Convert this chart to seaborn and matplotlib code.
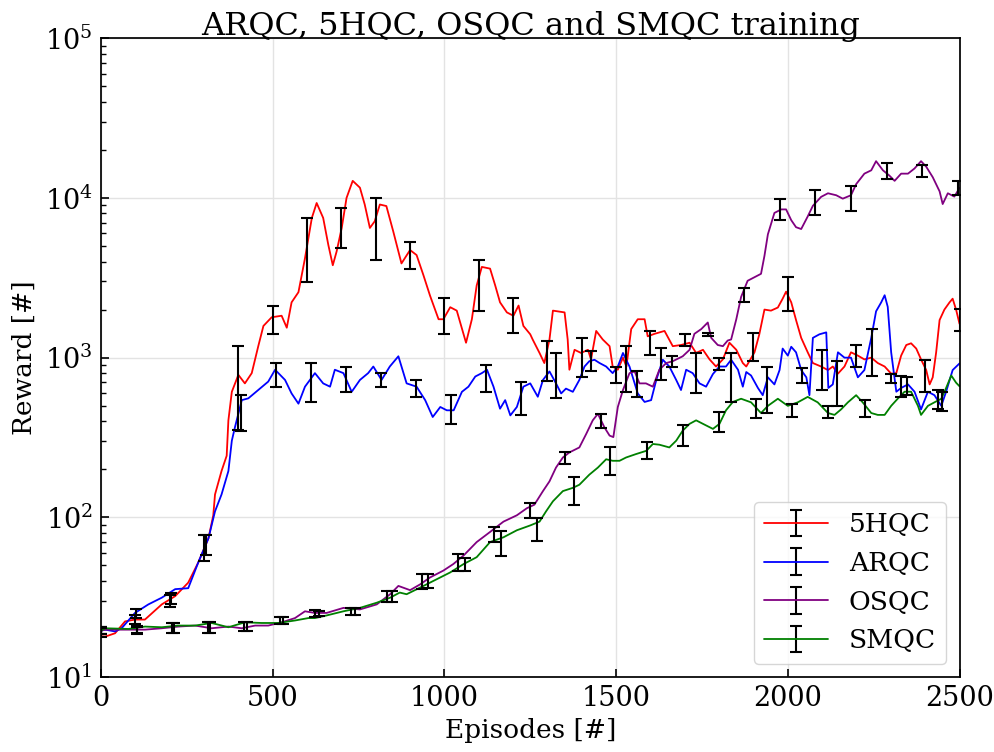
import numpy as np
import pandas as pd
import matplotlib
matplotlib.use("Agg")
import matplotlib.pyplot as plt
import seaborn as sns

# ---------------- data ----------------
ep_5hqc = [0, 12, 41, 70, 99, 128, 177, 216, 254, 283, 313, 327, 332, 351, 366, 371, 381, 400, 419, 439,
           458, 473, 497, 526, 541, 555, 575, 594, 614, 628, 647, 662, 675, 686, 701, 715, 733, 754, 768, 783,
           797, 812, 831, 851, 875, 900, 919, 939, 958, 983, 997, 1017, 1036, 1063, 1080, 1094, 1109, 1133, 1148, 1162,
           1182, 1201, 1216, 1230, 1250, 1257, 1277, 1291, 1306, 1316, 1330, 1350, 1359, 1364, 1379, 1398, 1418, 1427, 1442, 1461,
           1481, 1490, 1505, 1520, 1530, 1544, 1563, 1583, 1592, 1612, 1641, 1665, 1689, 1714, 1733, 1753, 1772, 1791, 1811, 1830,
           1850, 1869, 1879, 1903, 1917, 1932, 1951, 1971, 1985, 1995, 2010, 2024, 2039, 2058, 2073, 2097, 2117, 2131, 2146, 2165,
           2184, 2204, 2223, 2243, 2262, 2282, 2301, 2316, 2330, 2345, 2359, 2374, 2388, 2403, 2413, 2422, 2432, 2442, 2456, 2471,
           2480, 2490, 2500]
r_5hqc = [18, 17.9, 18.8, 22.3, 22.9, 22.9, 28.5, 32.1, 39, 52, 74, 103, 139, 195, 243, 405, 611, 780, 690, 800,
          1180, 1580, 1790, 1830, 1540, 2220, 2570, 4190, 7500, 9300, 7500, 5080, 3790, 4610, 6490, 10000, 12800, 11600, 9100, 6490,
          7140, 9100, 8900, 6180, 3890, 4720, 4390, 3280, 2450, 1740, 1740, 2070, 1970, 1240, 1740, 2830, 3700, 3610, 2830, 2220,
          1920, 1830, 2120, 1580, 1400, 1300, 1070, 925, 1300, 1970, 1950, 1920, 1300, 840, 1120, 1070, 1120, 976, 1470, 1300,
          1180, 880, 840, 1000, 880, 1510, 1740, 1740, 1360, 1410, 1470, 1180, 1200, 1240, 1070, 1120, 976, 880, 976, 1240,
          1120, 925, 880, 1080, 1400, 2000, 1970, 2060, 2340, 2590, 2220, 1720, 1330, 1080, 925, 880, 836, 880, 794, 880,
          1080, 1030, 975, 1000, 925, 880, 794, 800, 1030, 1200, 1230, 1140, 975, 836, 680, 753, 1080, 1720, 2000, 2220,
          2340, 2000, 1630]

ep_arqc = [0, 12, 41, 60, 99, 138, 177, 216, 254, 283, 313, 332, 351, 371, 381, 390, 410, 429, 458, 487,
           507, 536, 555, 575, 594, 623, 647, 667, 681, 706, 730, 754, 778, 793, 817, 841, 866, 890, 919, 944,
           966, 988, 1007, 1027, 1051, 1070, 1090, 1109, 1124, 1143, 1162, 1177, 1192, 1211, 1230, 1250, 1272, 1287, 1306, 1325,
           1340, 1354, 1374, 1393, 1408, 1422, 1437, 1452, 1471, 1490, 1505, 1520, 1539, 1563, 1583, 1602, 1617, 1636, 1655, 1675,
           1689, 1704, 1723, 1743, 1762, 1782, 1801, 1820, 1835, 1855, 1869, 1879, 1893, 1913, 1927, 1942, 1961, 1976, 1985, 2000,
           2010, 2024, 2039, 2054, 2063, 2073, 2092, 2112, 2118, 2131, 2146, 2165, 2184, 2204, 2223, 2243, 2257, 2272, 2282, 2291,
           2301, 2316, 2330, 2350, 2369, 2388, 2408, 2427, 2447, 2461, 2480, 2500]
r_arqc = [19.5, 19.8, 19.3, 20.2, 25.2, 28.5, 31.4, 35.5, 36, 52, 74, 109, 139, 195, 302, 366, 542, 556, 627, 708,
          840, 725, 597, 515, 658, 800, 690, 658, 840, 800, 611, 725, 800, 880, 725, 880, 1020, 690, 658, 542,
          425, 491, 468, 468, 611, 658, 762, 800, 840, 658, 479, 542, 435, 491, 658, 690, 569, 725, 820, 690,
          597, 640, 611, 725, 880, 950, 970, 925, 880, 800, 880, 1070, 880, 597, 528, 542, 725, 970, 880, 725,
          627, 840, 800, 690, 658, 790, 880, 880, 970, 840, 658, 813, 773, 646, 582, 753, 680, 836, 1140, 1030,
          1170, 1080, 836, 753, 582, 1330, 1400, 1440, 646, 680, 1080, 1000, 1000, 753, 836, 1330, 1950, 2220, 2460, 2080,
          1080, 612, 646, 680, 612, 474, 612, 582, 499, 612, 836, 920]

ep_osqc = [0, 12, 80, 128, 177, 225, 274, 322, 371, 410, 449, 487, 526, 565, 594, 623, 657, 706, 754, 803,
           842, 866, 900, 929, 958, 997, 1026, 1056, 1094, 1133, 1172, 1211, 1240, 1262, 1287, 1306, 1325, 1345, 1364, 1393,
           1413, 1432, 1447, 1466, 1481, 1492, 1505, 1520, 1539, 1554, 1568, 1587, 1607, 1626, 1646, 1665, 1694, 1714, 1728, 1748,
           1767, 1777, 1796, 1811, 1825, 1835, 1850, 1864, 1883, 1903, 1922, 1932, 1942, 1961, 1981, 1995, 2010, 2024, 2039, 2058,
           2073, 2097, 2117, 2141, 2160, 2184, 2199, 2223, 2243, 2257, 2277, 2296, 2311, 2330, 2350, 2369, 2388, 2403, 2422, 2442,
           2451, 2466, 2485, 2500]
r_osqc = [19.5, 19.8, 19.8, 19.8, 20.2, 20.7, 21.0, 20.2, 20.7, 20.2, 21, 21, 22, 23.4, 25.8, 25.2, 25.2, 27.1, 26.5, 28.5,
          33, 37.2, 35, 38, 42, 46.4, 51, 57.7, 70, 81, 94, 103, 114, 120, 146, 168, 205, 237, 255, 274,
          333, 405, 445, 366, 325, 318, 491, 627, 800, 820, 690, 690, 658, 840, 925, 950, 1020, 1120, 1410, 1510,
          1660, 1330, 1200, 1180, 1280, 1300, 1740, 2400, 3030, 3190, 3350, 4340, 5920, 8060, 8480, 8480, 7260, 6560, 6390, 7660,
          8930, 10160, 10700, 10400, 9900, 10400, 12200, 14200, 14900, 17000, 14900, 13800, 12800, 14200, 14200, 15300, 17000, 15700, 13500, 11000,
          9160, 10700, 10200, 11550]

ep_smqc = [0, 12, 80, 128, 177, 225, 274, 322, 371, 419, 468, 516, 565, 604, 623, 657, 706, 754, 803, 842,
           870, 890, 939, 978, 1017, 1056, 1094, 1133, 1172, 1211, 1250, 1277, 1296, 1316, 1345, 1374, 1393, 1422, 1447, 1471,
           1490, 1510, 1529, 1558, 1588, 1607, 1626, 1655, 1675, 1694, 1714, 1733, 1753, 1782, 1801, 1820, 1840, 1864, 1893, 1922,
           1942, 1971, 2000, 2029, 2058, 2087, 2117, 2136, 2155, 2175, 2199, 2218, 2243, 2262, 2282, 2301, 2320, 2340, 2359, 2379,
           2388, 2408, 2427, 2447, 2461, 2476, 2490, 2500]
r_smqc = [19.5, 20.2, 20, 20.7, 20.5, 21.0, 21.0, 21.8, 20.5, 22.0, 21.8, 21.8, 22.6, 23.4, 23.4, 24.3, 25.8, 27.1, 29.2, 31.4,
          33.8, 33, 37.2, 41, 45.2, 51, 56.3, 70, 75, 83, 89, 94, 109, 126, 146, 153, 160, 185, 205, 231,
          226, 226, 237, 249, 261, 288, 285, 274, 302, 349, 385, 405, 385, 358, 385, 468, 528, 553, 525, 450,
          499, 553, 499, 525, 568, 525, 450, 438, 474, 525, 582, 525, 450, 438, 438, 499, 553, 612, 612, 499,
          438, 499, 525, 553, 646, 773, 697, 662]

# error bars: position, centre value, half-width
bx_5hqc = [0, 100, 200, 300, 400, 500, 600, 700, 800, 900, 1000, 1100, 1200, 1300, 1400, 1500, 1600, 1700, 1800,
           1900, 2000, 2100, 2200, 2300, 2400, 2500]
by_5hqc = [19, 23, 30, 65, 765, 1760, 5240, 6770, 7060, 4470, 1880, 3025, 1900, 990, 1046, 785, 1257, 1290, 918,
           1190, 2570, 870, 1040, 745, 793, 1740]
be_5hqc = [1.2, 1.5, 2.5, 12, 415, 360, 2260, 1930, 2990, 860, 480, 1055, 470, 280, 285, 95, 212, 110, 78,
           243, 615, 240, 160, 48, 180, 265]

bx_arqc = [0, 102, 204, 306, 408, 510, 612, 714, 816, 918, 1020, 1122, 1224, 1326, 1428, 1530, 1632, 1734, 1836,
           1938, 2040, 2142, 2244, 2346, 2448]
by_arqc = [19.5, 25, 31, 68, 465, 790, 727, 745, 729, 647, 483, 757, 571, 813, 958, 900, 937, 833, 800,
           665, 777, 725, 1140, 668, 537]
be_arqc = [1, 1.5, 2.5, 10, 117, 135, 200, 135, 71, 78, 98, 146, 136, 257, 139, 290, 213, 236, 270,
           215, 80, 225, 370, 86, 75]

bx_osqc = [0, 104, 208, 312, 416, 520, 624, 728, 832, 936, 1040, 1144, 1248, 1352, 1456, 1560, 1664, 1768, 1872,
           1976, 2080, 2184, 2288, 2392, 2496]
by_osqc = [19.5, 19.7, 20.3, 20.5, 20.8, 22.7, 25, 25.7, 32, 40, 52.7, 78.5, 111, 235, 405, 694, 950, 1400, 2475,
           8580, 9550, 10050, 14850, 14800, 11600]
be_osqc = [1, 1, 1.5, 1.7, 1.4, 1.2, 1.2, 1.3, 2.7, 4.3, 6.3, 8.5, 12, 20, 40, 125, 70, 35, 255,
           1320, 1700, 1800, 1700, 1320, 1200]

bx_smqc = [0, 106, 212, 318, 424, 530, 635, 741, 847, 953, 1059, 1165, 1271, 1377, 1483, 1589, 1694, 1800,
           1906, 2012, 2118, 2224, 2330, 2436]
by_smqc = [19.5, 20, 20.3, 20.5, 20.8, 22.7, 25, 25.7, 32, 40, 51, 70, 85, 150, 230, 263, 328, 400,
           485, 470, 458, 484, 670, 552]
be_smqc = [1, 1, 1.5, 1.7, 1.4, 1.2, 1, 1.2, 2.5, 4, 5, 12.7, 13.4, 30, 45, 32, 48, 58,
           68, 42, 41, 56, 102, 78]

names = ["5HQC", "ARQC", "OSQC", "SMQC"]
colors = ["red", "blue", "purple", "green"]

# ---------------- style ----------------
sns.set_theme(style="ticks")
plt.rcParams.update({
    "font.family": ["DejaVu Serif"],
    "mathtext.fontset": "dejavuserif",
    "axes.edgecolor": "black",
    "axes.linewidth": 1.25,
    "xtick.color": "black",
    "ytick.color": "black",
    "text.color": "black",
    "axes.labelcolor": "black",
    "axes.titlecolor": "black",
})

fig = plt.figure(figsize=(9.94, 7.52), dpi=100)
ax = fig.add_axes([0.1016, 0.0997, 0.8637, 0.8494])

lines = [(ep_5hqc, r_5hqc), (ep_arqc, r_arqc), (ep_osqc, r_osqc), (ep_smqc, r_smqc)]
frames = []
for name, (xs, ys) in zip(names, lines):
    frames.append(pd.DataFrame({"Episode": xs, "Reward": ys, "Model": name}))
df = pd.concat(frames, ignore_index=True)

sns.lineplot(data=df, x="Episode", y="Reward", hue="Model", hue_order=names,
             palette=dict(zip(names, colors)), estimator=None, sort=True,
             linewidth=1.3, legend=False, ax=ax, zorder=2)

bars = [(bx_5hqc, by_5hqc, be_5hqc), (bx_arqc, by_arqc, be_arqc),
        (bx_osqc, by_osqc, be_osqc), (bx_smqc, by_smqc, be_smqc)]
ekw = dict(ecolor="black", elinewidth=1.5, capsize=4, capthick=1.5)
for (bx, by, be) in bars:
    ax.errorbar(bx, by, yerr=be, fmt="none", zorder=3, **ekw)

# legend proxies (line in series colour with a black error bar)
handles = []
for name, c in zip(names, colors):
    h = ax.errorbar([np.nan], [np.nan], yerr=[1], fmt="-", color=c, lw=1.3, label=name, **ekw)
    handles.append(h)

ax.set_yscale("log")
ax.set_xlim(0, 2500)
ax.set_ylim(10, 1e5)
ax.set_xticks([0, 500, 1000, 1500, 2000, 2500])
ax.grid(True, which="major", color="#e3e3e3", linewidth=1.0)
ax.set_axisbelow(True)

ax.tick_params(axis="both", which="major", direction="in", length=6, width=1.2, labelsize=19.5,
               top=False, right=False, pad=6)
ax.tick_params(axis="y", which="minor", direction="in", length=3.5, width=1.0, right=False)
ax.tick_params(axis="x", which="minor", bottom=False)

ax.set_title("ARQC, 5HQC, OSQC and SMQC training", fontsize=23, pad=2)
ax.set_xlabel("Episodes [#]", fontsize=19, labelpad=4)
ax.set_ylabel("Reward [#]", fontsize=19, labelpad=6)

leg = ax.legend(handles=handles, labels=names, loc="lower right", fontsize=19,
                handlelength=2.4, frameon=True, fancybox=True, borderaxespad=0.5,
                labelspacing=0.52, borderpad=0.4)
leg.get_frame().set_edgecolor("#cccccc")

fig.savefig("out.png", dpi=100)
